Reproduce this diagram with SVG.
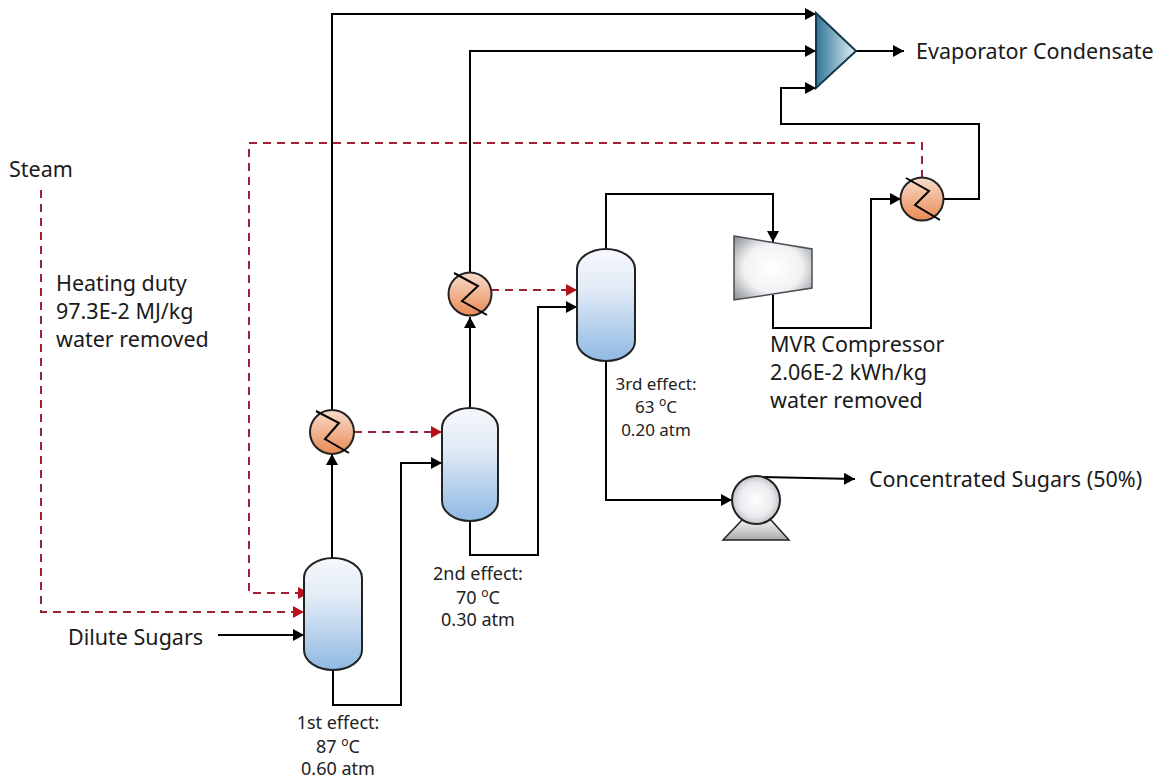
<svg xmlns="http://www.w3.org/2000/svg" width="1159" height="780" viewBox="0 0 1159 780">
<style>
.l{fill:none;stroke:#000;stroke-width:2}
.d{fill:none;stroke:#9b2335;stroke-width:2;stroke-dasharray:8 6}
.s{stroke:#222;stroke-width:2}
text{font-family:"Noto Sans","Liberation Sans",sans-serif;fill:#1a1a1a}
.a{font-size:21.500px}
.b{font-size:18px;text-anchor:middle;fill:#222}
.u{font-size:12px}
</style>
<defs>
<linearGradient id="v" x1="0" y1="0" x2="0" y2="1"><stop offset="0" stop-color="#f6f8fc"/><stop offset=".35" stop-color="#e2ebf6"/><stop offset="1" stop-color="#8fb9e3"/></linearGradient>
<linearGradient id="h" x1="0" y1="0" x2="0" y2="1"><stop offset="0" stop-color="#f8dccb"/><stop offset="1" stop-color="#e98a55"/></linearGradient>
<linearGradient id="t" x1="0" y1="0" x2="1" y2="0"><stop offset="0" stop-color="#2f7596"/><stop offset="1" stop-color="#e4f0f4"/></linearGradient>
<radialGradient id="c" r=".68"><stop offset="0" stop-color="#fff"/><stop offset=".55" stop-color="#f1f2f3"/><stop offset="1" stop-color="#8d9195"/></radialGradient>
<radialGradient id="p"><stop offset="0" stop-color="#fff"/><stop offset=".7" stop-color="#e9ebee"/><stop offset="1" stop-color="#c3c6ca"/></radialGradient>
<linearGradient id="b" x1="0" y1="0" x2="0" y2="1"><stop offset="0" stop-color="#f4f4f4"/><stop offset="1" stop-color="#a9a9a9"/></linearGradient>
<marker id="k" markerUnits="userSpaceOnUse" markerWidth="12" markerHeight="12" refX="11" refY="6" orient="auto"><path d="M0 0L11 6L0 12Z" fill="#000"/></marker>
<marker id="r" markerUnits="userSpaceOnUse" markerWidth="12" markerHeight="12" refX="11" refY="6" orient="auto"><path d="M0 0L11 6L0 12Z" fill="#b5121b"/></marker>
</defs>
<g id="connectors">
<path class="l" marker-end="url(#k)" d="M332 558V454"/>
<path class="l" marker-end="url(#k)" d="M332 410V14H816"/>
<path class="l" marker-end="url(#k)" d="M470 408V317"/>
<path class="l" marker-end="url(#k)" d="M470 273V51H816"/>
<path class="l" marker-end="url(#k)" d="M943 199H979V124H781V88H816"/>
<path class="l" marker-end="url(#k)" d="M856 51H904"/>
<path class="l" marker-end="url(#k)" d="M333 670V705H401V463H442"/>
<path class="l" marker-end="url(#k)" d="M470 521V555H538V307H577"/>
<path class="l" marker-end="url(#k)" d="M606 249V194H773V242"/>
<path class="l" marker-end="url(#k)" d="M773 295V328H871V199H901"/>
<path class="l" marker-end="url(#k)" d="M606 361V500H732"/>
<path class="l" marker-end="url(#k)" d="M756 477L855 479"/>
<path class="l" marker-end="url(#k)" d="M218 635H304"/>
<path class="d" marker-end="url(#r)" d="M922 178V143H249V593H309"/>
<path class="d" marker-end="url(#r)" d="M41 190V612H304"/>
<path class="d" marker-end="url(#r)" d="M354 432H442"/>
<path class="d" marker-end="url(#r)" d="M491 290H577"/>
</g>
<g id="splitter"><path d="M816 13L856 51L816 88Z" fill="url(#t)" stroke="#12394d" stroke-width="2"/></g>
<g id="effect-1"><rect x="304" y="558" width="58" height="112" rx="29" ry="20" fill="url(#v)" class="s"/></g>
<g id="effect-2"><rect x="442" y="408" width="56" height="113" rx="28" ry="20" fill="url(#v)" class="s"/></g>
<g id="effect-3"><rect x="577" y="249" width="58" height="112" rx="29" ry="20" fill="url(#v)" class="s"/></g>
<g id="heater-1"><circle cx="332" cy="432" r="22" fill="url(#h)" class="s"/><path class="l" d="M316 411L339 423L325 439L349 453"/></g>
<g id="heater-2"><circle cx="470" cy="294" r="21.500" fill="url(#h)" class="s"/><path class="l" d="M454 273L478 286L462 301L487 315"/></g>
<g id="heater-3"><circle cx="922" cy="199" r="21.500" fill="url(#h)" class="s"/><path class="l" d="M906 178L929 191L915 205L940 220"/></g>
<g id="compressor"><path d="M734 236L812 249V288L734 300Z" fill="url(#c)" stroke="#4a4f55" stroke-width="1.500"/></g>
<g id="pump"><path d="M742 520L723 540H789L771 520Z" fill="url(#b)" stroke="#222" stroke-width="1.500"/><circle cx="756" cy="500" r="24" fill="url(#p)" class="s"/></g>
<g id="labels">
<text class="a" x="9" y="177">Steam</text>
<text class="a" x="56" y="291">Heating duty</text>
<text class="a" x="56" y="319">97.3E-2 MJ/kg</text>
<text class="a" x="56" y="347">water removed</text>
<text class="a" x="68" y="645">Dilute Sugars</text>
<text class="a" x="916" y="59">Evaporator Condensate</text>
<text class="a" x="770" y="352">MVR Compressor</text>
<text class="a" x="770" y="380">2.06E-2  kWh/kg</text>
<text class="a" x="770" y="408">water removed</text>
<text class="a" x="869" y="487">Concentrated Sugars (50%)</text>
<text class="b" x="338" y="729">1st effect:</text>
<text class="b" x="338" y="753">87 <tspan dy="-7" class="u">o</tspan><tspan dy="7">C</tspan></text>
<text class="b" x="338" y="775">0.60 atm</text>
<text class="b" x="478" y="580">2nd effect:</text>
<text class="b" x="478" y="604">70 <tspan dy="-7" class="u">o</tspan><tspan dy="7">C</tspan></text>
<text class="b" x="478" y="626">0.30 atm</text>
<text class="b" x="656" y="390" style="font-size:17px">3rd effect:</text>
<text class="b" x="656" y="413" style="font-size:17px">63 <tspan dy="-7" class="u">o</tspan><tspan dy="7">C</tspan></text>
<text class="b" x="656" y="436" style="font-size:17px">0.20 atm</text>
</g>
</svg>
